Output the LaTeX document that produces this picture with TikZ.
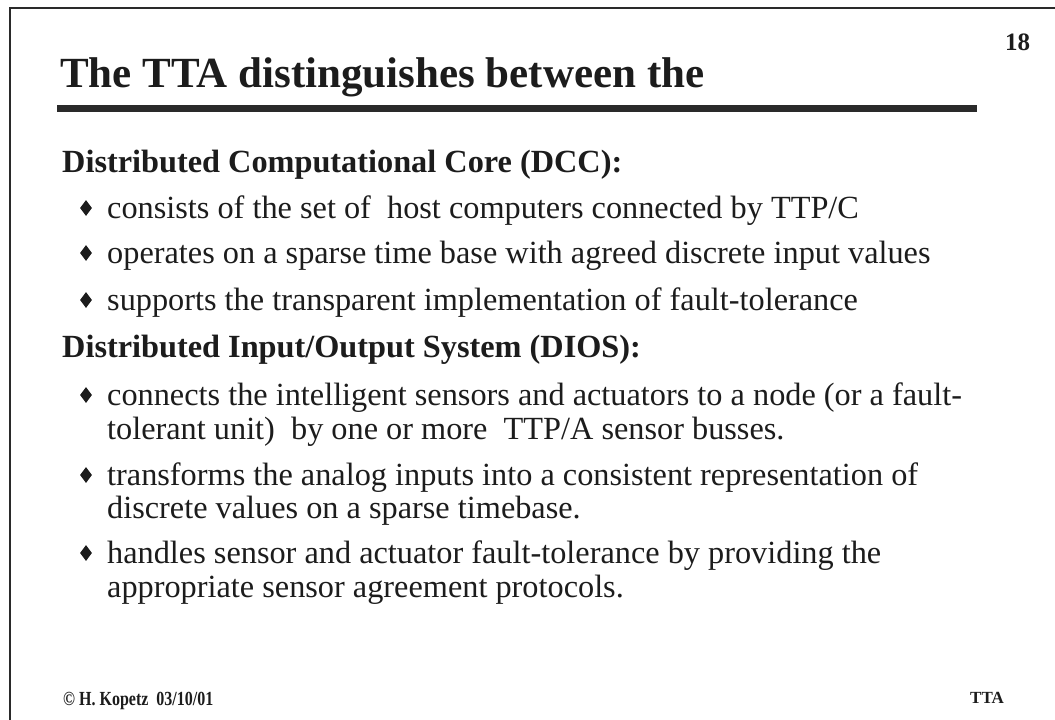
\documentclass[tikz,border=0pt]{standalone}
\usepackage{fontspec}
\usepackage{graphicx}
\setmainfont{Liberation Serif}
\usetikzlibrary{shapes.geometric}
\definecolor{ink}{HTML}{1C1C1C}
\definecolor{rulecol}{HTML}{2A2A2A}
\tikzset{
  body/.style={anchor=base west, inner sep=0pt, text=ink, font=\fontsize{32.3}{34}\selectfont},
  head/.style={anchor=base west, inner sep=0pt, text=ink, font=\fontsize{32.3}{34}\selectfont\bfseries},
  bulletmark/.style={diamond, fill=ink, draw=none, inner sep=0pt, minimum width=12pt, minimum height=16pt},
  foot/.style={anchor=base west, inner sep=0pt, text=ink},
}
\begin{document}
\begin{tikzpicture}[x=1pt,y=-1pt]
\useasboundingbox (0,0) rectangle (1055,720);
\fill[white] (0,0) rectangle (1055,720);

% slide frame: top and left edges
\draw[rulecol, line width=2pt] (10,720) -- (10,8) -- (1055,8);

% title and its underline
\node[anchor=base west, inner sep=0pt, text=ink, font=\fontsize{43}{46}\selectfont\bfseries] (title) at (60,87) {The TTA distinguishes between the};
\fill[rulecol] (57,105) rectangle (977,112);
\node[foot, font=\fontsize{25}{26}\selectfont\bfseries] (pageno) at (1005,50) {18};

% first group
\node[head] (h1) at (62,172) {Distributed Computational Core (DCC):};
\node[bulletmark] (m1) at (86,208) {};
\node[body] (b1) at (107,218) {consists of the set of\ \ host computers connected by TTP/C};
\node[bulletmark] (m2) at (86,253) {};
\node[body] (b2) at (107,263) {operates on a sparse time base with agreed discrete input values};
\node[bulletmark] (m3) at (86,300) {};
\node[body] (b3) at (107,310) {supports the transparent implementation of fault-tolerance};

% second group
\node[head] (h2) at (62,357) {Distributed Input/Output System (DIOS):};
\node[bulletmark] (m4) at (86,395) {};
\node[body] (b4a) at (107,405) {connects the intelligent sensors and actuators to a node (or a fault-};
\node[body] (b4b) at (107,439) {tolerant unit)\ \ by one or more\ \ TTP/A sensor busses.};
\node[bulletmark] (m5) at (86,475) {};
\node[body] (b5a) at (107,485) {transforms the analog inputs into a consistent representation of};
\node[body] (b5b) at (107,518) {discrete values on a sparse timebase.};
\node[bulletmark] (m6) at (86,553) {};
\node[body] (b6a) at (107,563) {handles sensor and actuator fault-tolerance by providing the};
\node[body] (b6b) at (107,597) {appropriate sensor agreement protocols.};

% footer
\node[foot] (author) at (63,705) {\scalebox{0.8}[1]{\fontsize{20}{20}\selectfont\bfseries © H. Kopetz\ \ 03/10/01}};
\node[foot, font=\fontsize{17}{18}\selectfont\bfseries] (topic) at (970,703) {TTA};
\end{tikzpicture}
\end{document}
